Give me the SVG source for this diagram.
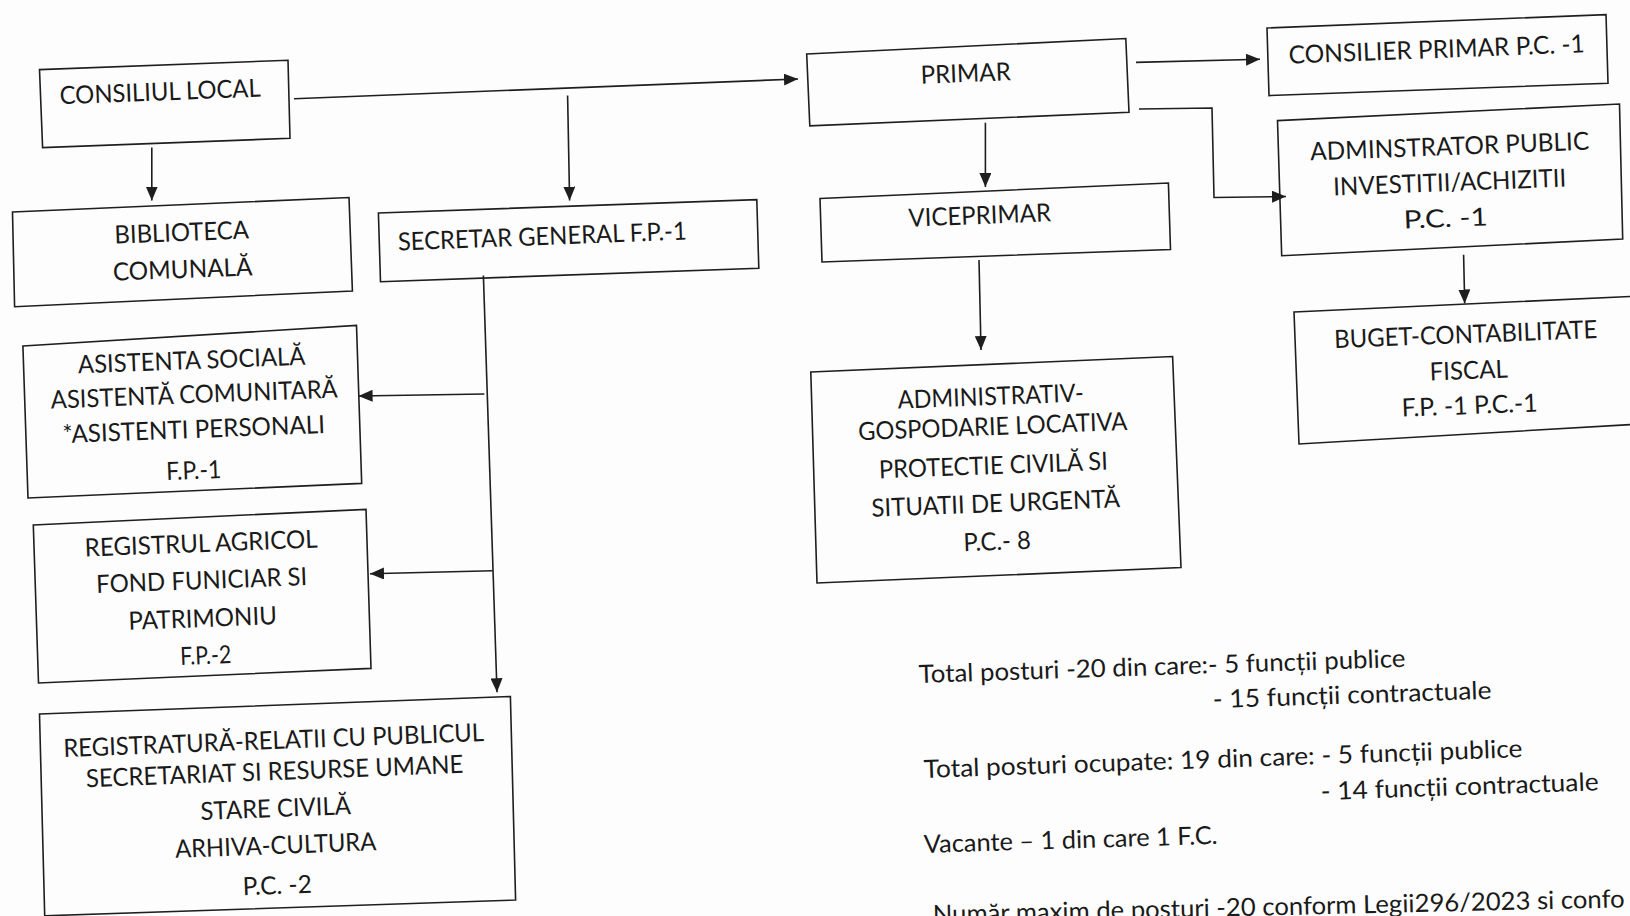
<svg xmlns="http://www.w3.org/2000/svg" width="1630" height="916" viewBox="0 0 1630 916">
<style>
.bx{fill:none;stroke:#1e1e1e;stroke-width:1.6;stroke-linejoin:miter}
.t{font-family:Lato,"Open Sans","Liberation Sans",sans-serif;font-size:25px;fill:#1a1a1a;text-anchor:middle}
.n{font-family:Lato,"Open Sans","Liberation Sans",sans-serif;font-size:25px;fill:#1a1a1a}
.c{fill:none;stroke:#1e1e1e;stroke-width:1.6}
</style>
<defs>
<marker id="ah" viewBox="0 0 14 12" refX="14" refY="6" markerWidth="14" markerHeight="12" markerUnits="userSpaceOnUse" orient="auto">
<path d="M0,0 L14,6 L0,12 z" fill="#1e1e1e"/>
</marker>
</defs>
<rect x="0" y="0" width="1630" height="916" fill="#fdfdfd"/>

<g id="connectors">
<path class="c" d="M294,98.8 L798,79" marker-end="url(#ah)"/>
<path class="c" d="M567.6,95.6 L569.6,200.6" marker-end="url(#ah)"/>
<path class="c" d="M151.8,147.6 L151.8,200.6" marker-end="url(#ah)"/>
<path class="c" d="M1136,62.4 L1260,59.3" marker-end="url(#ah)"/>
<path class="c" d="M1139,109 L1212,108 L1214,197.5 L1286,196.5" marker-end="url(#ah)"/>
<path class="c" d="M985.4,122.7 L985.4,187" marker-end="url(#ah)"/>
<path class="c" d="M979,260 L981,350" marker-end="url(#ah)"/>
<path class="c" d="M1463.6,254.7 L1464.7,303.5" marker-end="url(#ah)"/>
<path class="c" d="M483.4,275.5 L497,692.3" marker-end="url(#ah)"/>
<path class="c" d="M484.4,394 L358.6,396" marker-end="url(#ah)"/>
<path class="c" d="M492.7,570.7 L370,573.8" marker-end="url(#ah)"/>
</g>

<g id="consiliul-local">
<polygon class="bx" points="39.5,69.6 288,60.3 290,138.3 42.6,147.6"/>
<text class="t" x="160.5" y="100.5" textLength="201" lengthAdjust="spacingAndGlyphs" transform="rotate(-2.2 160.5 100.5)">CONSILIUL LOCAL</text>
</g>

<g id="biblioteca">
<polygon class="bx" points="12.5,212 349,197.5 352.4,291 14.6,306.7"/>
<text class="t" x="182" y="241" textLength="134.5" lengthAdjust="spacingAndGlyphs" transform="rotate(-2.2 182 241)">BIBLIOTECA</text>
<text class="t" x="183" y="278" textLength="139.6" lengthAdjust="spacingAndGlyphs" transform="rotate(-2.2 183 278)">COMUNALĂ</text>
</g>

<g id="secretar-general">
<polygon class="bx" points="378.4,213 756.8,199.6 758.8,268.2 380.5,281.7"/>
<text class="t" x="542.6" y="245" textLength="289" lengthAdjust="spacingAndGlyphs" transform="rotate(-2.2 542.6 245)">SECRETAR GENERAL F.P.-1</text>
</g>

<g id="primar">
<polygon class="bx" points="806.7,54 1125.8,38.5 1129,112.3 809.8,125.8"/>
<text class="t" x="966" y="82" textLength="90" lengthAdjust="spacingAndGlyphs" transform="rotate(-2.2 966 82)">PRIMAR</text>
</g>

<g id="consilier-primar">
<polygon class="bx" points="1267,28 1606,14.6 1608,83.2 1269,95.6"/>
<text class="t" x="1437" y="58" textLength="296" lengthAdjust="spacingAndGlyphs" transform="rotate(-2.2 1437 58)">CONSILIER PRIMAR P.C. -1</text>
</g>

<g id="administrator-public">
<polygon class="bx" points="1277.5,120.6 1619.5,104 1622.7,239 1281.7,255.7"/>
<text class="t" x="1450" y="155" textLength="279" lengthAdjust="spacingAndGlyphs" transform="rotate(-2.2 1450 155)">ADMINSTRATOR PUBLIC</text>
<text class="t" x="1450" y="191" textLength="233" lengthAdjust="spacingAndGlyphs" transform="rotate(-2.2 1450 191)">INVESTITII/ACHIZITII</text>
<text class="t" x="1446" y="227" textLength="84" lengthAdjust="spacingAndGlyphs" transform="rotate(-2.2 1446 227)">P.C. -1</text>
</g>

<g id="viceprimar">
<polygon class="bx" points="820,198.5 1168.4,183 1170.5,249.5 822,262"/>
<text class="t" x="980" y="224" textLength="142.5" lengthAdjust="spacingAndGlyphs" transform="rotate(-2.2 980 224)">VICEPRIMAR</text>
</g>

<g id="buget-contabilitate">
<polygon class="bx" points="1294,312 1640,296 1640,424 1299,444"/>
<text class="t" x="1466" y="343" textLength="263" lengthAdjust="spacingAndGlyphs" transform="rotate(-2.2 1466 343)">BUGET-CONTABILITATE</text>
<text class="t" x="1469" y="379" textLength="78" lengthAdjust="spacingAndGlyphs" transform="rotate(-2.2 1469 379)">FISCAL</text>
<text class="t" x="1470" y="414" textLength="136" lengthAdjust="spacingAndGlyphs" transform="rotate(-2.2 1470 414)">F.P. -1 P.C.-1</text>
</g>

<g id="asistenta-sociala">
<polygon class="bx" points="22.9,346 356.5,325.4 361.7,483.4 28,498"/>
<text class="t" x="192" y="369" textLength="227.6" lengthAdjust="spacingAndGlyphs" transform="rotate(-2.2 192 369)">ASISTENTA SOCIALĂ</text>
<text class="t" x="194.5" y="403" textLength="287" lengthAdjust="spacingAndGlyphs" transform="rotate(-2.2 194.5 403)">ASISTENTĂ COMUNITARĂ</text>
<text class="t" x="194" y="438" textLength="262.6" lengthAdjust="spacingAndGlyphs" transform="rotate(-2.2 194 438)">*ASISTENTI PERSONALI</text>
<text class="t" x="194" y="479" textLength="55" lengthAdjust="spacingAndGlyphs" transform="rotate(-2.2 194 479)">F.P.-1</text>
</g>

<g id="registrul-agricol">
<polygon class="bx" points="33.3,525 366,509.4 371,668.4 38.5,683"/>
<text class="t" x="201.5" y="552" textLength="233" lengthAdjust="spacingAndGlyphs" transform="rotate(-2.2 201.5 552)">REGISTRUL AGRICOL</text>
<text class="t" x="202" y="589" textLength="211" lengthAdjust="spacingAndGlyphs" transform="rotate(-2.2 202 589)">FOND FUNICIAR SI</text>
<text class="t" x="203" y="627" textLength="148.5" lengthAdjust="spacingAndGlyphs" transform="rotate(-2.2 203 627)">PATRIMONIU</text>
<text class="t" x="206" y="664" textLength="51" lengthAdjust="spacingAndGlyphs" transform="rotate(-2.2 206 664)">F.P.-2</text>
</g>

<g id="registratura">
<polygon class="bx" points="39.5,714 510.4,696.5 515.6,900 44.7,915.8"/>
<text class="t" x="274" y="749" textLength="421" lengthAdjust="spacingAndGlyphs" transform="rotate(-2.2 274 749)">REGISTRATURĂ-RELATII CU PUBLICUL</text>
<text class="t" x="275" y="780" textLength="377.6" lengthAdjust="spacingAndGlyphs" transform="rotate(-2.2 275 780)">SECRETARIAT SI RESURSE UMANE</text>
<text class="t" x="276" y="817" textLength="150.4" lengthAdjust="spacingAndGlyphs" transform="rotate(-2.2 276 817)">STARE CIVILĂ</text>
<text class="t" x="276" y="854" textLength="201.3" lengthAdjust="spacingAndGlyphs" transform="rotate(-2.2 276 854)">ARHIVA-CULTURA</text>
<text class="t" x="277.6" y="894" textLength="69" lengthAdjust="spacingAndGlyphs" transform="rotate(-2.2 277.6 894)">P.C. -2</text>
</g>

<g id="administrativ">
<polygon class="bx" points="810.8,372 1172.6,356.5 1181,567.6 817,583"/>
<text class="t" x="991" y="405" textLength="186" lengthAdjust="spacingAndGlyphs" transform="rotate(-2.2 991 405)">ADMINISTRATIV-</text>
<text class="t" x="993" y="435" textLength="269.4" lengthAdjust="spacingAndGlyphs" transform="rotate(-2.2 993 435)">GOSPODARIE LOCATIVA</text>
<text class="t" x="993.7" y="474" textLength="229" lengthAdjust="spacingAndGlyphs" transform="rotate(-2.2 993.7 474)">PROTECTIE CIVILĂ SI</text>
<text class="t" x="996" y="512" textLength="248.6" lengthAdjust="spacingAndGlyphs" transform="rotate(-2.2 996 512)">SITUATII DE URGENTĂ</text>
<text class="t" x="997.5" y="550" textLength="67.4" lengthAdjust="spacingAndGlyphs" transform="rotate(-2.2 997.5 550)">P.C.- 8</text>
</g>

<g id="summary">
<text class="n" x="919" y="683" textLength="487" lengthAdjust="spacingAndGlyphs" transform="rotate(-1.9 919 683)">Total posturi -20 din care:- 5 funcții publice</text>
<text class="n" x="1213" y="708" textLength="279" lengthAdjust="spacingAndGlyphs" transform="rotate(-1.9 1213 708)">-  15 funcții contractuale</text>
<text class="n" x="924" y="778" textLength="599" lengthAdjust="spacingAndGlyphs" transform="rotate(-2 924 778)">Total posturi ocupate: 19 din care: - 5 funcții publice</text>
<text class="n" x="1321" y="800" textLength="278" lengthAdjust="spacingAndGlyphs" transform="rotate(-2 1321 800)">- 14 funcții contractuale</text>
<text class="n" x="924" y="853" textLength="294" lengthAdjust="spacingAndGlyphs" transform="rotate(-1.8 924 853)">Vacante – 1 din care 1 F.C.</text>
<text class="n" x="933" y="923" textLength="692" lengthAdjust="spacingAndGlyphs" transform="rotate(-1.3 933 923)">Număr maxim de posturi -20 conform Legii296/2023 si confo</text>
</g>
</svg>
